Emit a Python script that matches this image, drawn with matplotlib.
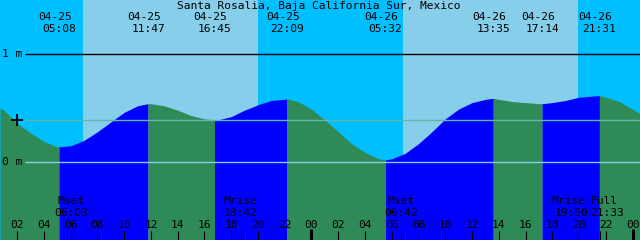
import matplotlib
matplotlib.use('Agg')
import matplotlib.pyplot as plt
import numpy as np

# ---------------------------------------------------------------
# data (hours counted from 04-25 00:00, heights in metres)
# ---------------------------------------------------------------
title = 'Santa Rosalia, Baja California Sur, Mexico'

hours = list(range(0, 50))
heights = [0.55, 0.48, 0.36, 0.27, 0.19, 0.14, 0.15, 0.20, 0.28, 0.37,
           0.46, 0.52, 0.54, 0.52, 0.48, 0.43, 0.40, 0.39, 0.42, 0.48,
           0.53, 0.57, 0.58, 0.56, 0.49, 0.39, 0.28, 0.17, 0.09, 0.03,
           0.03, 0.08, 0.17, 0.28, 0.40, 0.49, 0.55, 0.58, 0.58, 0.56,
           0.55, 0.54, 0.55, 0.57, 0.60, 0.61, 0.60, 0.56, 0.49, 0.41]

event_dates = ['04-25', '04-25', '04-25', '04-25', '04-26', '04-26', '04-26', '04-26']
event_times = ['05:08', '11:47', '16:45', '22:09', '05:32', '13:35', '17:14', '21:31']
event_heights = [0.14, 0.54, 0.39, 0.585, 0.02, 0.59, 0.54, 0.615]
event_kind = ['low', 'high', 'low', 'high', 'low', 'high', 'low', 'high']

sunrise = [6.92, 30.84]
sunset = [20.0, 43.92]

moon_labels = ['Mset', 'Mrise', 'Mset', 'Mrise', 'Full']
moon_dates = ['04-25', '04-25', '04-26', '04-26', '04-26']
moon_times = ['06:03', '18:42', '06:42', '19:50', '21:33']

mean_level = 0.386
hour_ticks = list(range(2, 49, 2))


def to_hours(d, t):
    day = 0 if d == '04-25' else 24
    hh, mm = t.split(':')
    return day + int(hh) + int(mm) / 60.0


ev_h = [to_hours(d, t) for d, t in zip(event_dates, event_times)]
moon_h = [to_hours(d, t) for d, t in zip(moon_dates, moon_times)]

# ---------------------------------------------------------------
# colours / layout
# ---------------------------------------------------------------
night_col = '#00BFFF'
day_col = '#87CEEB'
ebb_col = '#2E8B57'
flood_col = '#0000FF'
mean_col = '#64B4A8'
zero_col = '#87CEEB'

PX = 13.38                      # pixels per hour
x0, x1 = 0.72, 0.72 + 640 / PX
y_lo, y_hi = (162 - 240) / 108, 162 / 108

# label nudges (pixels) so crowded moon labels sit side by side
moon_lab_dx = [0, 0, 0, -8, 4]
moon_tim_dx = [0, 0, 0, -5, 7]

fig = plt.figure(figsize=(6.4, 2.4), dpi=100)
ax = fig.add_axes([0, 0, 1, 1])
ax.set_xlim(x0, x1)
ax.set_ylim(y_lo, y_hi)
ax.axis('off')

mono = 'DejaVu Sans Mono'
fs = 8.1
trans = ax.get_xaxis_transform()


def fy(px):
    # pixel row from the top -> axes fraction
    return 1 - px / 240.0


# sky: night everywhere, day bands on top
ax.axvspan(x0, x1, color=night_col, lw=0, zorder=0)
for a, b in zip(sunrise, sunset):
    ax.axvspan(a, b, color=day_col, lw=0, zorder=0)

# tide curve from read values plus extremes
t = np.array(hours + ev_h, dtype=float)
h = np.array(heights + event_heights, dtype=float)
order = np.argsort(t)
t, h = t[order], h[order]

bounds = [x0] + ev_h + [x1]
for i in range(len(bounds) - 1):
    a, b = bounds[i], bounds[i + 1]
    if i < len(event_kind):
        col = flood_col if event_kind[i] == 'high' else ebb_col
    else:
        col = ebb_col
    m = (t > a) & (t < b)
    tt = np.concatenate([[a], t[m], [b]])
    hh = np.concatenate([[np.interp(a, t, h)], h[m], [np.interp(b, t, h)]])
    ax.fill_between(tt, y_lo, hh, color=col, lw=0, zorder=1)

# level lines
xs = x0 + 25 / PX
ax.plot([xs, x1], [1, 1], color='black', lw=1.0, zorder=3, solid_capstyle='butt')
ax.plot([xs, x1], [0, 0], color=zero_col, lw=1.0, zorder=3, solid_capstyle='butt')
ax.plot([xs, x1], [mean_level, mean_level], color=mean_col, lw=1.0, zorder=3,
        solid_capstyle='butt')
ax.plot([x0 + 17 / PX], [mean_level], marker='+', ms=9, mew=1.3,
        color='black', zorder=4)
ax.text(x0 + 2 / PX, 1, '1 m', fontsize=fs, family=mono, va='center',
        ha='left', zorder=4)
ax.text(x0 + 2 / PX, 0, '0 m', fontsize=fs, family=mono, va='center',
        ha='left', zorder=4)

# title and extreme labels
ax.text(0.5 * (x0 + x1) - 1 / PX, fy(6), title, transform=trans, fontsize=fs,
        family=mono, ha='center', va='center', zorder=5)
for d, tm, xe in zip(event_dates, event_times, ev_h):
    ax.text(xe - 4 / PX, fy(17), d, transform=trans, fontsize=fs,
            family=mono, ha='center', va='center', zorder=5)
    ax.text(xe, fy(29.5), tm, transform=trans, fontsize=fs,
            family=mono, ha='center', va='center', zorder=5)

# moon events
for lab, tm, xm, dl, dt in zip(moon_labels, moon_times, moon_h,
                               moon_lab_dx, moon_tim_dx):
    ax.text(xm + dl / PX, fy(201.5), lab, transform=trans, fontsize=fs,
            family=mono, ha='center', va='center', zorder=5)
    ax.text(xm + dt / PX, fy(213.5), tm, transform=trans, fontsize=fs,
            family=mono, ha='center', va='center', zorder=5)
    ax.vlines(xm, fy(240), fy(231), transform=trans, color='black', lw=0.8,
              zorder=5)

# hour ticks
for hk in hour_ticks:
    ax.text(hk, fy(225), '%02d' % (hk % 24), transform=trans, fontsize=fs,
            family=mono, ha='center', va='center', zorder=5)
    if hk % 24 == 0:
        ax.vlines(hk, fy(240), fy(229), transform=trans, color='black', lw=2.2,
                  zorder=5)
    else:
        ax.vlines(hk, fy(240), fy(231), transform=trans, color='black', lw=0.8,
                  zorder=5)

fig.savefig('out.png', dpi=100)
